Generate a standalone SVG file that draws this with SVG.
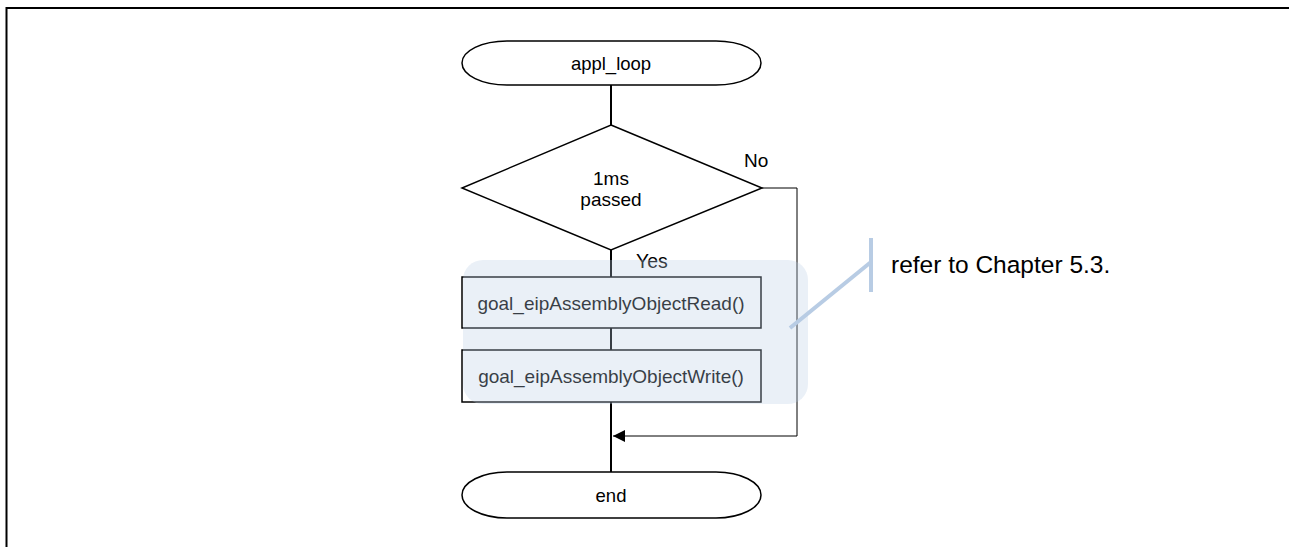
<svg xmlns="http://www.w3.org/2000/svg" width="1289" height="547" viewBox="0 0 1289 547">
<defs>
<style>
.t{font-family:"Liberation Sans",Arial,sans-serif;fill:#000;}
.sh{fill:#fff;stroke:#000;stroke-width:1.5;}
.c{fill:none;stroke:#000;stroke-width:2;}
.c1{fill:none;stroke:#000;stroke-width:1;}
</style>
<marker id="ah" viewBox="0 0 10 10" refX="10" refY="5" markerWidth="12" markerHeight="12" markerUnits="userSpaceOnUse" orient="auto">
<path d="M0,0 L10,5 L0,10 Z" fill="#000"/>
</marker>
</defs>
<rect width="1289" height="547" fill="#fff"/>
<path d="M6.5,547 V8 H1289" fill="none" stroke="#000" stroke-width="2"/>
<g id="connectors">
<line class="c" x1="611" y1="85" x2="611" y2="125"/>
<line class="c" x1="611" y1="250" x2="611" y2="277"/>
<line class="c" x1="611" y1="328" x2="611" y2="350"/>
<line class="c" x1="611" y1="402" x2="611" y2="472"/>
<path class="c1" d="M762,188 H797 V436 H613" marker-end="url(#ah)"/>
<text class="t" x="744" y="167" font-size="19">No</text>
<text class="t" x="636" y="268" font-size="19.5">Yes</text>
</g>
<g id="start">
<rect class="sh" x="462" y="41" width="299" height="44" rx="45" ry="22"/>
<text class="t" x="611" y="70" font-size="18.5" text-anchor="middle">appl_loop</text>
</g>
<g id="decision">
<polygon class="sh" points="611,125 762,188 611,250 462,188"/>
<text class="t" x="611" y="185" font-size="19" text-anchor="middle">1ms</text>
<text class="t" x="611" y="206" font-size="19" text-anchor="middle">passed</text>
</g>
<g id="read">
<rect class="sh" x="462" y="277" width="299" height="51"/>
<text class="t" x="611" y="310" font-size="19" text-anchor="middle">goal_eipAssemblyObjectRead()</text>
</g>
<g id="write">
<rect class="sh" x="462" y="350" width="299" height="52"/>
<text class="t" x="611" y="383" font-size="19" text-anchor="middle">goal_eipAssemblyObjectWrite()</text>
</g>
<g id="end">
<rect class="sh" x="462" y="472" width="299" height="46" rx="45" ry="23"/>
<text class="t" x="611" y="502" font-size="18.5" text-anchor="middle">end</text>
</g>
<g id="highlight">
<rect x="463" y="260" width="345" height="144" rx="20" ry="20" fill="#b8cce4" fill-opacity="0.3"/>
</g>
<g id="callout">
<path d="M790,328 L871,262 M871,238 V292" fill="none" stroke="#b8cce4" stroke-width="4"/>
<text class="t" x="891" y="273" font-size="24.5">refer to Chapter 5.3.</text>
</g>
</svg>
